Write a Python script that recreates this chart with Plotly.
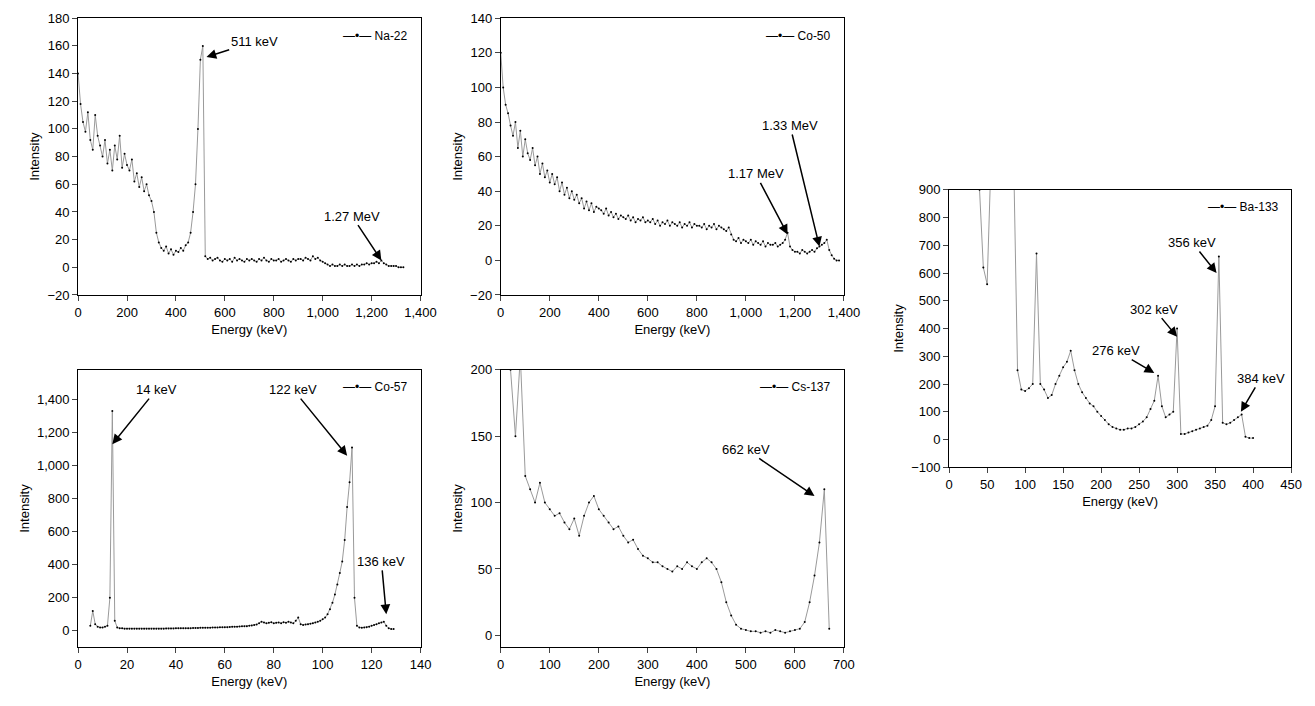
import plotly.graph_objects as go

# Na-22, energy 0..1330 keV step 10
na_e = list(range(0, 1340, 10))
na_y = [140, 118, 105, 98, 112, 92, 85, 110, 95, 88, 80,
        92, 75, 85, 70, 88, 78, 95, 72, 82, 74,
        70, 78, 62, 68, 58, 65, 55, 60, 52, 48,
        40, 25, 18, 14, 12, 15, 10, 13, 9, 12,
        11, 14, 12, 16, 18, 25, 40, 60, 100, 150,
        160, 8, 6, 7, 5, 6, 7, 5, 4, 6,
        5, 6, 4, 7, 5, 6, 5, 4, 6, 5,
        6, 5, 4, 6, 5, 7, 5, 4, 6, 5,
        5, 6, 4, 5, 6, 5, 4, 6, 5, 6,
        6, 5, 7, 6, 5, 8, 6, 7, 5, 4,
        3, 2, 1, 2, 1, 1, 2, 1, 2, 1,
        1, 2, 1, 2, 1, 2, 2, 3, 2, 3,
        3, 4, 3, 5, 3, 2, 1, 1, 1, 1,
        0, 0, 0]

# Co-60 (labelled Co-50), energy 0..1380 step 10
co60_e = list(range(0, 1390, 10))
co60_y = [120, 100, 90, 85, 78, 72, 80, 65, 75, 60, 70,
          62, 58, 65, 55, 60, 50, 56, 48, 52, 45,
          50, 44, 48, 40, 45, 38, 42, 36, 40, 35,
          38, 33, 36, 30, 34, 29, 33, 28, 31, 30,
          29, 27, 30, 26, 28, 25, 27, 24, 26, 25,
          24, 26, 23, 25, 22, 24, 23, 25, 22, 23,
          22, 24, 21, 23, 20, 22, 21, 23, 20, 22,
          21, 20, 22, 19, 21, 20, 22, 19, 21, 20,
          20, 19, 21, 18, 20, 19, 21, 18, 20, 19,
          18, 17, 19, 15, 12, 11, 13, 10, 12, 11,
          10, 12, 9, 11, 10, 9, 11, 8, 10, 9,
          9, 10, 8, 9, 10, 12, 16, 8, 6, 5,
          5, 4, 6, 5, 4, 5, 6, 5, 7, 8,
          9, 10, 12, 6, 3, 1, 0, 0]

# Co-57, energy 5..129 step 1
co57_e = list(range(5, 130))
co57_y = [30, 120, 40, 25, 20, 20, 25, 30, 200, 1330,
          60, 20, 15, 15, 12, 12, 12, 12, 12, 12,
          12, 12, 12, 12, 12, 12, 13, 13, 13, 13,
          13, 14, 14, 14, 14, 15, 15, 15, 15, 16,
          16, 16, 17, 17, 17, 18, 18, 18, 19, 19,
          20, 20, 20, 21, 21, 22, 22, 23, 24, 25,
          25, 26, 27, 28, 28, 30, 32, 35, 38, 45,
          55, 50, 45, 48, 52, 45, 48, 50, 46, 52,
          48, 55, 50, 45, 60, 80, 40, 35, 38, 40,
          42, 45, 50, 55, 60, 70, 80, 100, 130, 170,
          220, 280, 350, 420, 550, 750, 900, 1110, 200, 30,
          20, 18, 20, 22, 25, 30, 35, 40, 45, 50,
          55, 30, 15, 10, 10]

# Cs-137, energy 20..670 step 10
cs_e = list(range(20, 680, 10))
cs_y = [200, 150, 210, 120, 110, 100, 115, 100, 95, 90,
        92, 85, 80, 88, 75, 90, 100, 105, 95, 90,
        85, 80, 82, 75, 70, 72, 65, 60, 58, 55,
        55, 52, 50, 48, 52, 50, 55, 52, 50, 55,
        58, 55, 50, 40, 25, 15, 8, 5, 4, 3,
        3, 2, 3, 2, 4, 3, 2, 3, 4, 5,
        10, 25, 45, 70, 110, 5]

# Ba-133, energy 40..400 step 5
ba_e = list(range(40, 405, 5))
ba_y = [900, 620, 560, 1000, 1000, 1000, 1000, 1000, 1000, 1000,
        250, 180, 175, 185, 200, 670, 200, 180, 150, 160,
        200, 230, 260, 280, 320, 250, 200, 170, 150, 130,
        120, 100, 85, 70, 55, 45, 40, 35, 35, 40,
        40, 45, 55, 65, 80, 110, 140, 230, 120, 80,
        90, 100, 400, 20, 20, 25, 30, 35, 40, 45,
        50, 70, 120, 660, 60, 55, 60, 70, 80, 90,
        10, 5, 5]

panels = [
    ("Na-22", na_e, na_y, [0.0533, 0.3137], [0.5935, 0.9855], [0, 1400], 200, [-20, 180], 20),
    ("Co-50", co60_e, co60_y, [0.3747, 0.6357], [0.5935, 0.9855], [0, 1400], 200, [-20, 140], 20),
    ("Co-57", co57_e, co57_y, [0.0533, 0.3137], [0.0945, 0.4875], [0, 140], 20, [-100, 1580], 200),
    ("Cs-137", cs_e, cs_y, [0.3747, 0.6357], [0.0945, 0.4875], [0, 700], 100, [-9, 200], 50),
    ("Ba-133", ba_e, ba_y, [0.7157, 0.9757], [0.3495, 0.7425], [0, 450], 50, [-100, 900], 100),
]

font = dict(family="Liberation Sans, Arial", size=13, color="black")
fig = go.Figure()
layout = {}
for i, (name, e, y, xd, yd, xr, xdt, yr, ydt) in enumerate(panels):
    n = "" if i == 0 else str(i + 1)
    fig.add_trace(go.Scatter(x=e, y=y, mode="lines+markers", name=name,
                             xaxis="x" + n, yaxis="y" + n,
                             line=dict(color="#9a9a9a", width=1),
                             marker=dict(color="black", size=2)))
    ax = dict(showline=True, mirror=True, linecolor="black", ticks="outside",
              showgrid=False, zeroline=False, tickformat=",", tickfont=font,
              automargin=False)
    layout["xaxis" + n] = dict(ax, domain=xd, range=xr, dtick=xdt, anchor="y" + n,
                               title=dict(text="Energy (keV)", font=font, standoff=6))
    layout["yaxis" + n] = dict(ax, domain=yd, range=yr, dtick=ydt, anchor="x" + n,
                               title=dict(text="Intensity", font=font, standoff=4))
    fig.add_annotation(xref="paper", yref="paper", x=xd[1] - 0.008, y=yd[1] - 0.012,
                       xanchor="right", yanchor="top", showarrow=False,
                       text="—•— " + name, font=dict(family="Liberation Sans", size=12))

fig.update_layout(**layout)

arrows = [
    ("x", "y", 525, 152, 720, 163, "511 keV"),
    ("x", "y", 1240, 5, 1120, 37, "1.27 MeV"),
    ("x2", "y2", 1170, 15, 1040, 50, "1.17 MeV"),
    ("x2", "y2", 1300, 8, 1180, 78, "1.33 MeV"),
    ("x3", "y3", 14, 1130, 32, 1460, "14 keV"),
    ("x3", "y3", 110, 1060, 88, 1460, "122 keV"),
    ("x3", "y3", 126, 100, 124, 420, "136 keV"),
    ("x4", "y4", 640, 105, 500, 140, "662 keV"),
    ("x5", "y5", 270, 240, 220, 320, "276 keV"),
    ("x5", "y5", 300, 370, 270, 470, "302 keV"),
    ("x5", "y5", 352, 600, 320, 710, "356 keV"),
    ("x5", "y5", 384, 100, 410, 220, "384 keV"),
]
for xr_, yr_, hx, hy, tx, ty, t in arrows:
    fig.add_annotation(xref=xr_, yref=yr_, x=hx, y=hy, axref=xr_, ayref=yr_, ax=tx, ay=ty,
                       text=t, showarrow=True, arrowhead=2, arrowsize=1.3, arrowwidth=1.5,
                       arrowcolor="black", font=font)

fig.update_layout(width=1315, height=706, margin=dict(l=0, r=0, t=0, b=0),
                  paper_bgcolor="white", plot_bgcolor="white", showlegend=False, font=font)
fig.write_html("out.html")
